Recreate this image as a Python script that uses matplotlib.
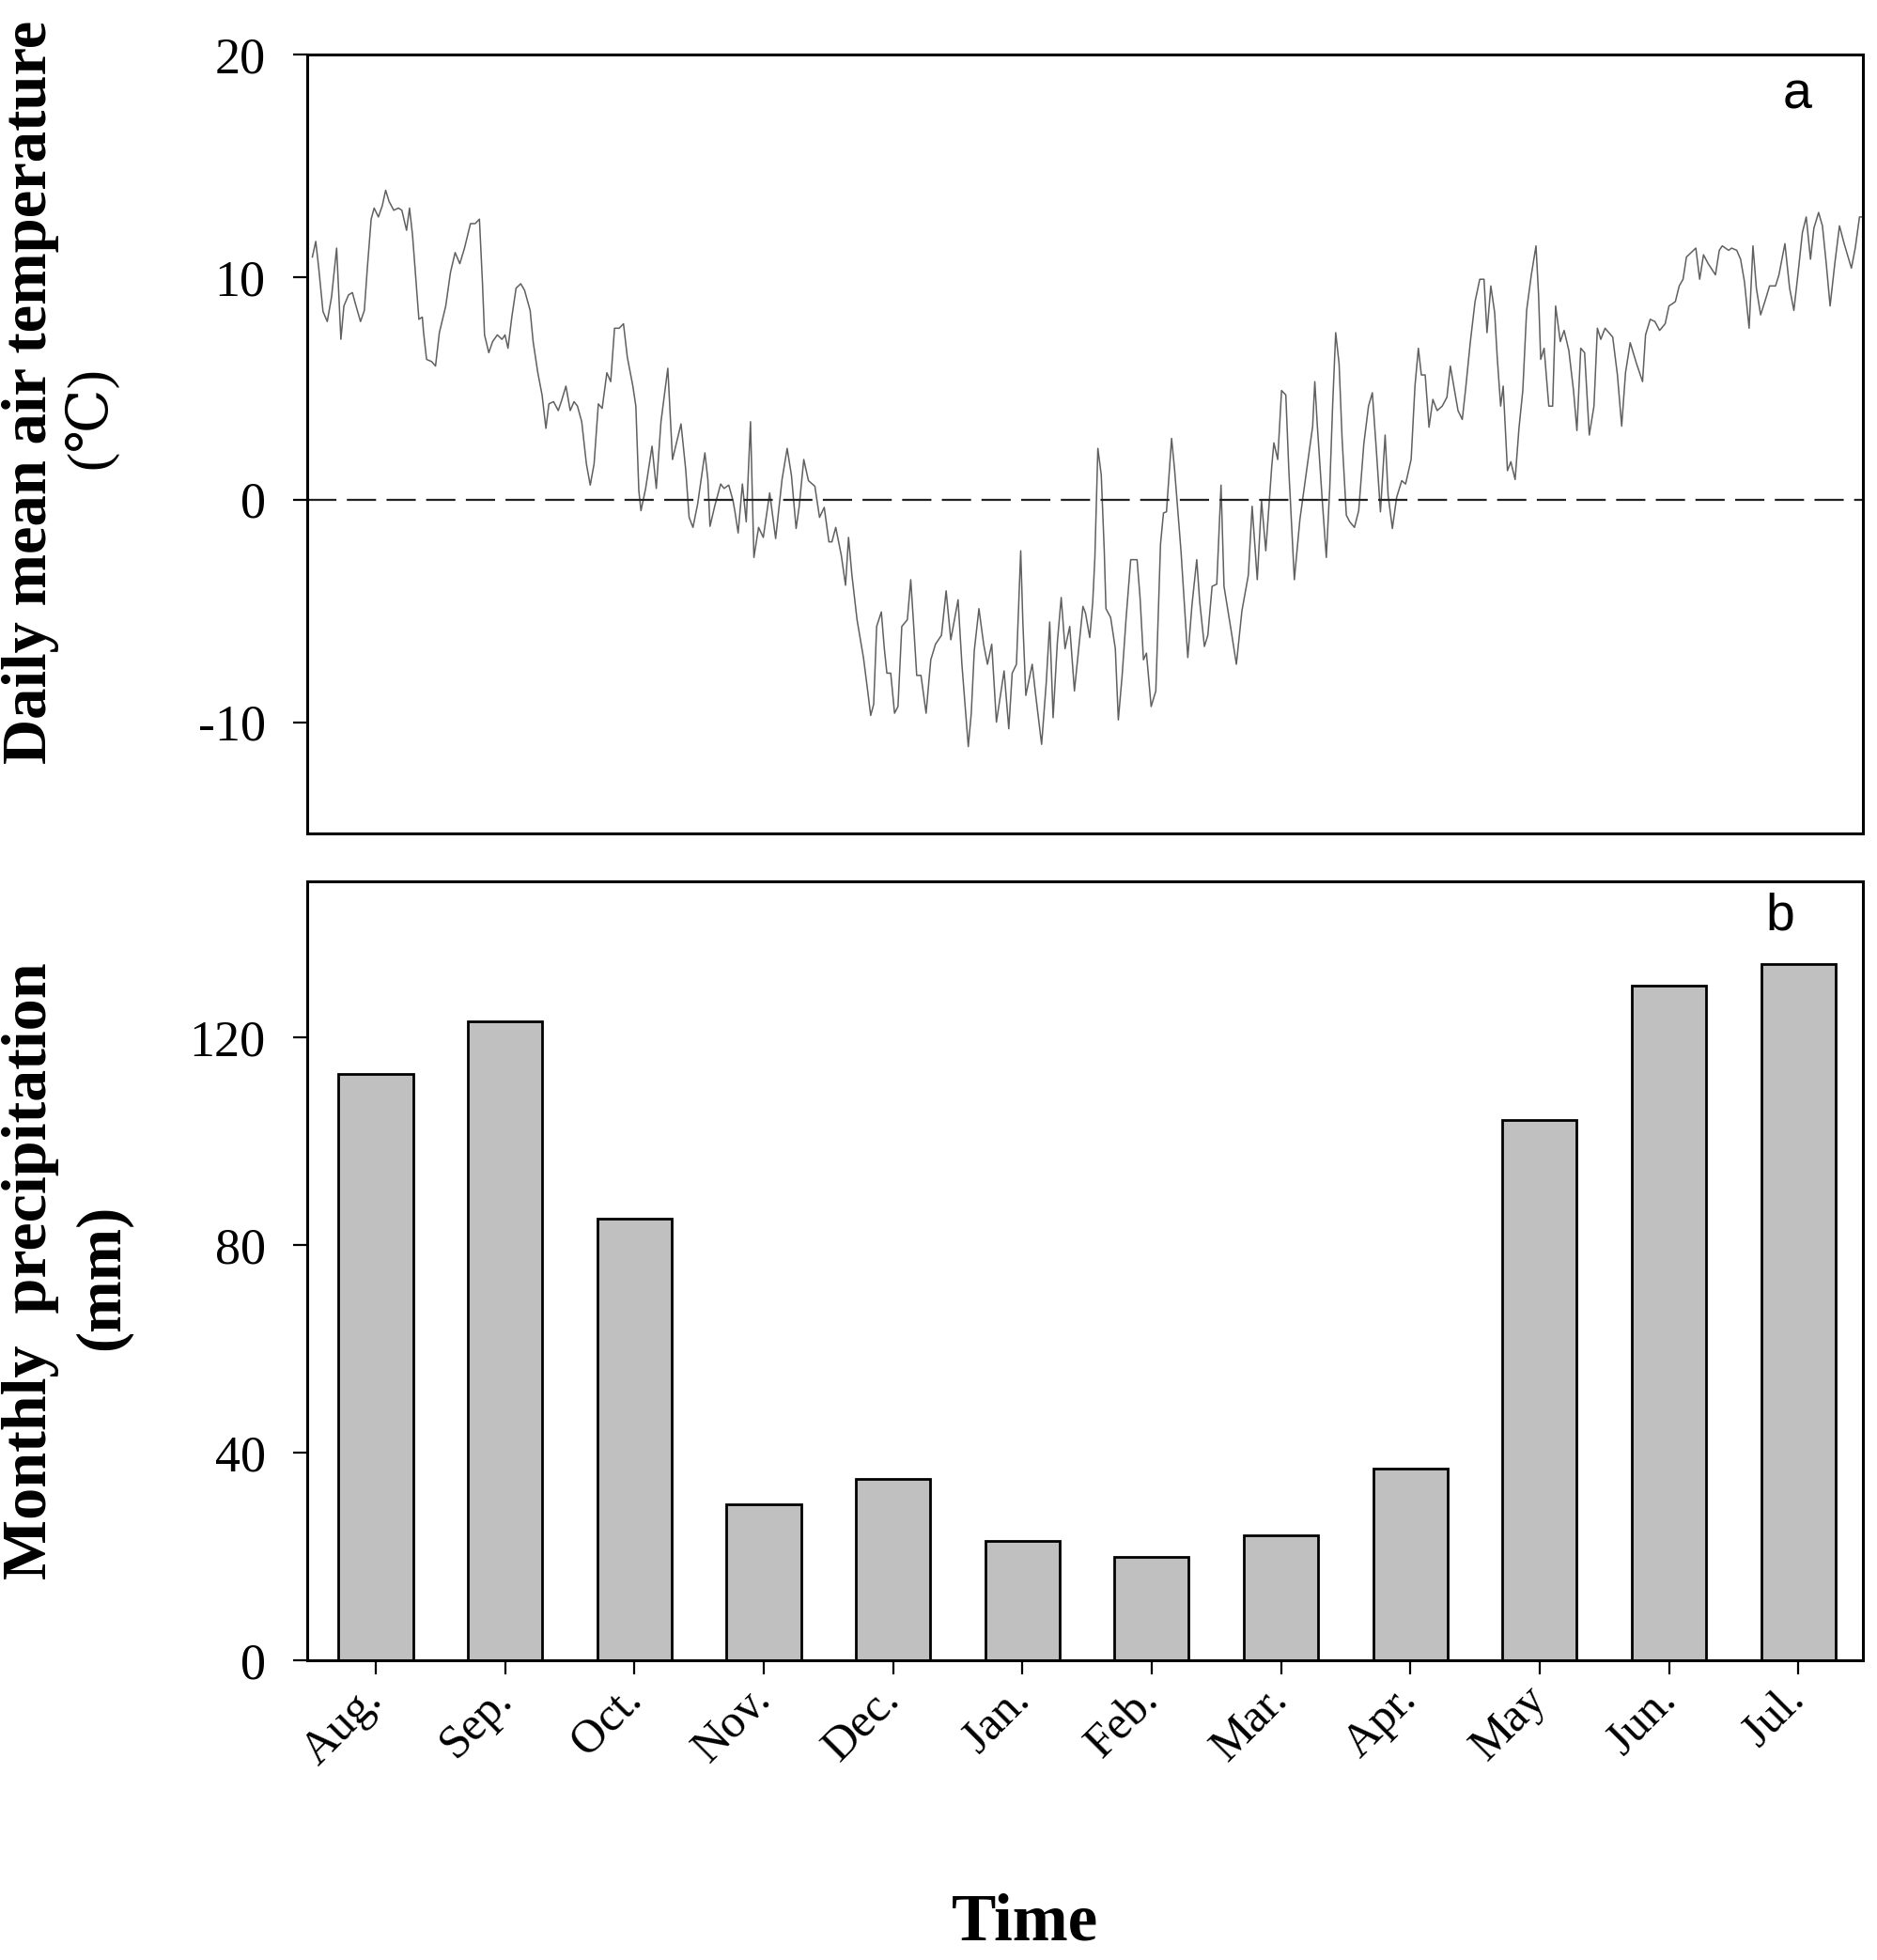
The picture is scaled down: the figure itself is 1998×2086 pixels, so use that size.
import matplotlib.pyplot as plt
import numpy as np

# daily mean air temperature (day from Aug 1, degC)
temp_day = [1.2, 2.0, 2.7, 3.7, 4.7, 5.7, 6.9, 7.9, 8.6, 9.7, 10.6, 11.3, 12.5, 13.4, 14.1,
            15.0, 15.7, 16.7, 17.6, 18.4, 19.2, 20.3, 21.4, 22.2, 23.3, 24.0, 24.7, 25.5,
            26.2, 27.0, 27.3, 28.0, 29.2, 30.1, 31.0, 32.5, 33.6, 34.7, 35.8, 36.9, 38.3,
            39.4, 40.4, 41.1, 41.6, 42.6, 43.5, 44.6, 45.7, 46.4, 47.1, 48.0, 49.0, 50.1,
            51.0, 52.3, 53.0, 54.1, 55.1, 56.0, 56.7, 57.8, 58.9, 59.6, 60.7, 61.7, 62.6,
            63.4, 64.4, 65.5, 66.4, 67.3, 68.3, 69.2, 70.3, 71.2, 72.1, 73.2, 74.2, 75.1,
            76.4, 77.1, 77.8, 78.3, 79.4, 80.9, 81.9, 83.0, 84.6, 85.7, 87.7, 88.8, 89.6,
            90.5, 91.6, 93.3, 94.0, 94.5, 95.6, 97.0, 97.8, 98.9, 99.9, 100.4, 101.1, 102.1,
            103.0, 104.0, 104.8, 105.9, 107.0, 108.5, 109.9, 111.4, 112.6, 113.6, 114.7,
            115.4, 116.5, 117.6, 119.1, 120.2, 121.3, 122.4, 123.1, 124.0, 125.3, 126.3,
            127.0, 127.8, 129.0, 130.5, 131.5, 132.2, 132.9, 133.6, 134.7, 135.4, 136.0,
            136.9, 137.8, 138.6, 139.5, 140.8, 141.6, 142.3, 143.0, 144.0, 145.2, 146.3,
            147.4, 148.8, 149.9, 151.0, 152.7, 153.6, 155.1, 155.8, 156.5, 157.6, 158.7,
            159.6, 160.6, 161.7, 163.5, 164.6, 165.4, 166.4, 167.4, 167.9, 168.6, 170.1,
            170.8, 172.3, 173.4, 174.2, 175.0, 176.0, 176.9, 177.8, 178.9, 180.0, 182.0,
            182.6, 183.6, 184.3, 184.8, 185.5, 186.3, 187.0, 187.4, 188.5, 189.6, 190.3,
            191.2, 192.1, 193.2, 194.7, 195.4, 196.2, 196.9, 198.0, 199.1, 200.2, 200.9,
            201.6, 202.8, 203.5, 205.0, 206.6, 207.6, 208.7, 209.4, 210.5, 211.3, 212.3,
            213.4, 214.4, 215.1, 216.7, 218.0, 219.3, 220.8, 221.7, 222.2, 222.9, 223.9,
            224.9, 226.3, 226.8, 227.7, 228.6, 229.6, 230.3, 231.6, 232.9, 234.4, 235.9,
            236.4, 237.0, 238.1, 239.1, 239.9, 240.6, 241.3, 242.1, 242.8, 243.8, 244.6,
            245.7, 246.7, 247.9, 249.0, 249.9, 250.9, 251.8, 252.9, 253.6, 254.6, 255.6,
            256.8, 257.7, 259.0, 259.9, 260.7, 261.4, 262.3, 263.2, 264.1, 265.1, 266.3,
            267.4, 268.2, 270.0, 271.0, 271.8, 272.9, 274.0, 275.1, 276.1, 276.8, 277.7,
            278.6, 279.2, 280.0, 280.6, 281.6, 282.4, 283.4, 284.3, 285.2, 286.1, 287.2,
            288.3, 288.9, 289.4, 290.2, 291.3, 292.2, 292.9, 294.0, 294.9, 296.0, 297.1,
            297.9, 298.8, 299.7, 300.8, 301.9, 302.7, 303.5, 304.5, 306.3, 307.4, 308.4,
            309.3, 310.4, 311.9, 313.3, 314.0, 315.1, 316.2, 317.3, 318.6, 319.5, 320.3,
            321.0, 321.9, 322.8, 323.6, 324.7, 325.8, 326.7, 327.6, 328.7, 330.4, 331.3,
            332.0, 333.5, 334.2, 335.4, 336.3, 337.2, 338.3, 339.2, 340.0, 341.0, 342.0,
            343.1, 344.5, 345.3, 346.7, 347.8, 348.8, 349.8, 350.8, 351.7, 352.7, 353.5,
            354.6, 355.5, 356.4, 357.3, 358.4, 359.5, 360.6, 362.3, 363.2, 364.2, 364.9]
temp_c = [10.9, 11.6, 10.4, 8.45, 8.0, 9.1, 11.3, 7.2, 8.7, 9.2, 9.3, 8.8, 8.0, 8.5, 10.4,
          12.6, 13.1, 12.7, 13.2, 13.9, 13.4, 13.0, 13.1, 13.0, 12.1, 13.1, 11.9, 9.9,
          8.1, 8.2, 7.5, 6.3, 6.2, 6.0, 7.5, 8.7, 10.2, 11.1, 10.6, 11.3, 12.4,
          12.4, 12.6, 9.8, 7.4, 6.6, 7.1, 7.4, 7.2, 7.4, 6.8, 8.2, 9.5, 9.7,
          9.4, 8.5, 7.1, 5.7, 4.7, 3.2, 4.3, 4.4, 4.0, 4.4, 5.1, 4.0, 4.4,
          4.2, 3.5, 1.6, 0.65, 1.6, 4.3, 4.1, 5.7, 5.3, 7.7, 7.7, 7.9, 6.4,
          5.1, 4.2, 0.4, -0.5, 0.5, 2.4, 0.5, 3.5, 5.9, 1.8, 3.4, 1.35, -0.8,
          -1.25, -0.2, 2.1, 0.9, -1.2, -0.3, 0.7, 0.5, 0.65, -0.05, -0.6, -1.5, 0.7,
          -1.0, 3.5, -2.6, -1.25, -1.7, 0.3, -1.75, 0.9, 2.3, 1.1, -1.3,
          -0.35, 1.8, 0.85, 0.6, -0.8, -0.35, -1.9, -1.9, -1.25, -2.5, -3.85,
          -1.7, -3.4, -5.4, -7.1, -8.6, -9.7, -9.2, -5.7, -5.05, -6.7, -7.8,
          -7.8, -9.6, -9.3, -5.7, -5.4, -3.6, -5.7, -7.9, -7.9, -9.6, -7.2,
          -6.5, -6.1, -4.1, -6.3, -4.5, -7.4, -11.1, -9.6, -6.8, -4.9, -6.5,
          -7.4, -6.5, -10.0, -7.7, -10.3, -7.8, -7.4, -2.3, -5.5, -8.8, -7.4,
          -8.6, -11.0, -8.2, -5.5, -9.8, -6.4, -4.4, -6.7, -5.7, -8.6, -4.8,
          -5.1, -6.2, -4.6, -2.6, 2.3, 1.1, -2.3, -4.9, -5.3, -6.7, -9.9,
          -7.9, -5.4, -2.7, -2.7, -4.4, -7.2, -6.9, -9.3, -8.6, -2.0, -0.6,
          -0.55, 2.75, 1.35, -2.3, -7.1, -4.7, -2.7, -4.6, -6.6, -6.1, -3.9,
          -3.8, 0.65, -3.9, -5.8, -7.4, -5.0, -3.4, -0.3, -1.7, -3.6, -0.05,
          -2.3, 1.5, 2.55, 1.8, 4.9, 4.7, 1.35, -3.6, -0.9, 1.2, 3.3,
          5.3, 3.3, 0.1, -2.6, 0.5, 4.3, 7.5, 6.1, 2.75, -0.7, -1.0,
          -1.25, -0.5, 2.5, 4.2, 4.8, 2.05, -0.55, 2.9, 0.2, -1.3, 0.1,
          0.85, 0.7, 1.8, 5.1, 6.8, 5.6, 5.6, 3.25, 4.5, 4.0, 4.2,
          4.6, 6.0, 4.0, 3.6, 5.0, 7.1, 8.9, 9.9, 9.9, 7.5, 9.6,
          8.4, 6.4, 4.2, 5.1, 1.3, 1.7, 0.9, 3.2, 4.9, 8.5, 10.1,
          11.4, 9.2, 6.3, 6.8, 4.2, 4.2, 8.7, 7.1, 7.6, 6.7, 4.9,
          3.1, 6.8, 6.6, 2.9, 4.2, 7.7, 7.2, 7.7, 7.3, 5.6, 3.3,
          5.7, 7.05, 6.1, 5.3, 7.4, 8.1, 8.0, 7.6, 7.9, 8.7, 8.8,
          8.9, 9.6, 9.9, 10.9, 11.1, 11.3, 9.9, 11.0, 10.6, 10.1, 11.2,
          11.4, 11.2, 11.3, 11.2, 10.8, 9.8, 7.7, 11.4, 9.5, 8.3, 8.9,
          9.6, 9.6, 10.1, 11.5, 9.5, 8.5, 10.2, 12.0, 12.7, 10.8, 12.2,
          12.9, 12.3, 10.6, 8.7, 10.6, 12.3, 11.5, 10.4, 11.3, 12.7, 12.7]

# monthly precipitation (mm)
months = ["Aug.", "Sep.", "Oct.", "Nov.", "Dec.", "Jan.", "Feb.", "Mar.", "Apr.", "May", "Jun.", "Jul."]
precip = [113, 123, 85, 30, 35, 23, 20, 24, 37, 104, 130, 134]

serif = ["Liberation Serif", "DejaVu Serif"]
plt.rcParams["font.family"] = serif
plt.rcParams["axes.unicode_minus"] = False

fig = plt.figure(figsize=(19.99, 20.86), dpi=100)
ax1 = fig.add_axes([0.1636, 0.5748, 0.8284, 0.3974])
ax2 = fig.add_axes([0.1636, 0.1529, 0.8284, 0.3974])

for ax in (ax1, ax2):
    for s in ax.spines.values():
        s.set_linewidth(2.2)
    ax.tick_params(axis="y", direction="out", length=11, width=1.6, pad=21, labelsize=39)

# panel a
ax1.plot(temp_day, temp_c, color="#606060", lw=1.1)
ax1.axhline(0, color="#222222", lw=1.6, linestyle=(0, (14, 5)))
ax1.set_xlim(0, 365)
ax1.set_ylim(-15, 20)
ax1.set_yticks([-10, 0, 10, 20])
ax1.set_xticks([])
ax1.text(0.958, 0.947, "a", transform=ax1.transAxes, ha="center", va="center",
         fontsize=40, family="Liberation Sans")

# panel b
x = np.arange(len(months))
ax2.bar(x, precip, width=0.575, color="#c0c0c0", edgecolor="black", lw=2.0)
ax2.set_xlim(-0.53, 11.5)
ax2.set_ylim(0, 150)
ax2.set_yticks([0, 40, 80, 120])
ax2.set_xticks(x)
ax2.set_xticklabels(months, rotation=45, ha="right", va="center", rotation_mode="anchor")
ax2.tick_params(axis="x", direction="out", length=11, width=1.6, pad=14, labelsize=36)
ax2.text(0.947, 0.955, "b", transform=ax2.transAxes, ha="center", va="center",
         fontsize=40, family="Liberation Sans")

# axis titles
fig.text(0.0165, 0.8000, "Daily mean air temperature", rotation=90, ha="center", va="center",
         fontsize=48, fontweight="bold")
fig.text(0.048, 0.7867, "(℃)", rotation=90, ha="center", va="center", fontsize=44)
fig.text(0.0165, 0.3514, "Monthly  precipitation", rotation=90, ha="center", va="center",
         fontsize=49, fontweight="bold")
fig.text(0.0545, 0.3485, "(mm)", rotation=90, ha="center", va="center",
         fontsize=48, fontweight="bold")
fig.text(0.546, 0.0185, "Time", ha="center", va="center", fontsize=51, fontweight="bold")

fig.savefig("out.png", dpi=100)
